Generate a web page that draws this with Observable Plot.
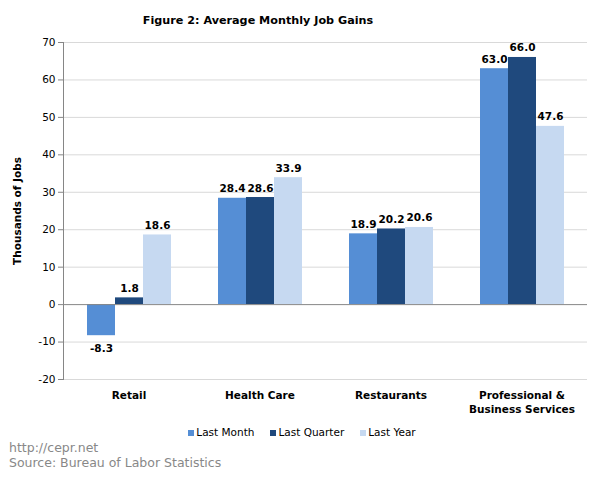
<!DOCTYPE html>
<html><head><meta charset="utf-8">
<script src="https://cdn.jsdelivr.net/npm/d3@7"></script>
<script src="https://cdn.jsdelivr.net/npm/@observablehq/plot@0.6"></script>
<style>
body{margin:0;background:#fff;font-family:"DejaVu Sans",Verdana,sans-serif;}
#wrap{position:relative;width:600px;height:477px;overflow:hidden;}
#title{position:absolute;top:14px;left:0;width:516px;text-align:center;font-weight:bold;font-size:11.2px;color:#000;}
#chart{position:absolute;top:30px;left:0;}
#legend{position:absolute;top:425px;left:0;width:604px;display:flex;justify-content:center;gap:16px;font-size:10.5px;color:#000;line-height:14px;}
#legend span.sw{display:inline-block;width:6px;height:6px;margin-right:2px;vertical-align:0px;}
#caption{position:absolute;top:440px;left:9px;font-size:12.5px;color:#888;line-height:15px;}
[aria-label="fx-axis tick label"]{font-weight:bold;}
[aria-label="y-axis label"]{font-weight:bold;}
</style>
</head><body>
<div id="wrap">
<div id="title">Figure 2: Average Monthly Job Gains</div>
<div id="chart"></div>
<div id="legend"></div>
<div id="caption">http://cepr.net<br>Source: Bureau of Labor Statistics</div>
</div>
<script>
const categories = ["Retail", "Health Care", "Restaurants", "Professional &\nBusiness Services"];
const series = ["Last Month", "Last Quarter", "Last Year"];
const lastMonth = [-8.3, 28.4, 18.9, 63.0];
const lastQuarter = [1.8, 28.6, 20.2, 66.0];
const lastYear = [18.6, 33.9, 20.6, 47.6];
const colors = ["#558ed5", "#1f497d", "#c6d9f1"];
const yTicks = [-20, -10, 0, 10, 20, 30, 40, 50, 60, 70];

const seriesValues = [lastMonth, lastQuarter, lastYear];
const rows = categories.flatMap((c, i) => seriesValues.map((arr, j) => ({category: c, series: series[j], value: arr[i]})));

const chart = Plot.plot({
  width: 600, height: 395,
  marginTop: 12, marginBottom: 46, marginLeft: 62, marginRight: 12,
  style: {fontFamily: '"DejaVu Sans", Verdana, sans-serif', fontSize: "10.5px", color: "#000", background: "#fff", overflow: "visible"},
  fx: {domain: categories, padding: 0, label: null, axis: null},
  x: {domain: series, paddingInner: 0, paddingOuter: 0.793, axis: null},
  y: {domain: [-20, 70], axis: null},
  color: {domain: series, range: colors},
  marks: [
    Plot.ruleY(yTicks.filter(d => d !== 0), {stroke: "#d9d9d9"}),
    Plot.barY(rows, {fx: "category", x: "series", y: "value", fill: "series"}),
    Plot.ruleY([0], {stroke: "#868686"}),
    Plot.frame({anchor: "left", facetAnchor: "left", stroke: "#868686"}),
    Plot.axisY({ticks: yTicks, tickSize: 5, tickPadding: 3, tickFormat: d => String(d), stroke: "#868686",
      label: "Thousands of Jobs", labelAnchor: "center", labelArrow: "none", labelOffset: 50}),
    Plot.axisFx({anchor: "bottom", tickSize: 0, tickPadding: 10, label: null, lineHeight: 1.3, fontWeight: "bold"}),
    Plot.text(rows.filter(d => d.value >= 0), {fx: "category", x: "series", y: "value", text: d => d.value.toFixed(1),
      lineAnchor: "bottom", dy: -6, fontWeight: "bold", fontSize: 10.5}),
    Plot.text(rows.filter(d => d.value < 0), {fx: "category", x: "series", y: "value", text: d => d.value.toFixed(1),
      lineAnchor: "top", dy: 9, fontWeight: "bold", fontSize: 10.5})
  ]
});
document.getElementById("chart").appendChild(chart);

const legend = document.getElementById("legend");
series.forEach((s, i) => {
  const item = document.createElement("div");
  const sw = document.createElement("span");
  sw.className = "sw";
  sw.style.background = colors[i];
  item.appendChild(sw);
  item.appendChild(document.createTextNode(s));
  legend.appendChild(item);
});
</script>
</body></html>
